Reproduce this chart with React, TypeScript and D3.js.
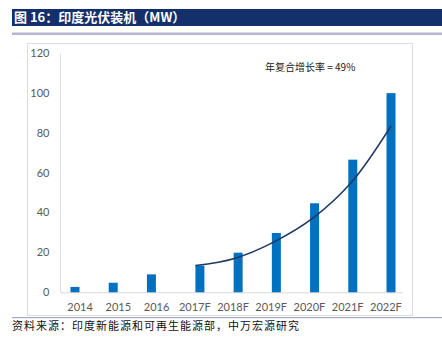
import React from "react";
import * as d3 from "d3";

const categories = ["2014", "2015", "2016", "2017F", "2018F", "2019F", "2020F", "2021F", "2022F"];
const actualValues: (number | null)[] = [2.7, 4.8, 9.0, null, null, null, null, null, null];
const forecastValues: (number | null)[] = [null, null, null, 13.4, 19.9, 29.8, 44.7, 66.6, 100];
const trendValues = [13.4, 17.0, 25.2, 37.2, 55.5, 83.5];
const yTicks = [0, 20, 40, 60, 80, 100, 120];
const titleText = "图 16：印度光伏装机（MW）";
const noteText = "年复合增长率 = 49%";
const sourceText = "资料来源：印度新能源和可再生能源部，中万宏源研究";

const W = 442;
const H = 339;

export default function App() {
  const x = d3.scaleBand<string>().domain(categories).range([61, 405]).padding(0);
  const sub = d3.scaleBand<string>().domain(["a", "f"]).range([-10, 10]).paddingInner(0.05).paddingOuter(0);
  const y = d3.scaleLinear().domain([0, 120]).range([292.3, 53.3]);
  const bw = 9;

  const center = (c: string) => (x(c) as number) + x.bandwidth() / 2;
  const barX = (c: string, s: string) => center(c) + (sub(s) as number) + (sub.bandwidth() - bw) / 2;

  const firstF = barX("2017F", "f");
  const lastF = barX("2022F", "f") + bw / 2;
  const tx = d3.scaleLinear().domain([0, trendValues.length - 1]).range([firstF, lastF]);
  const line = d3
    .line<number>()
    .x((_, i) => tx(i))
    .y((d) => y(d))
    .curve(d3.curveCatmullRom.alpha(0.5));

  const tickFont = "Lato, 'Open Sans', sans-serif";
  const cjk = "'Noto Sans CJK SC', sans-serif";

  return (
    <svg width={W} height={H} style={{ position: "absolute", left: 0, top: 0, background: "#fff" }}>
      {/* title bar */}
      <rect x={12} y={9} width={430} height={17} fill="#14306b" />
      <text x={14} y={22} fill="#fff" fontSize={13} fontWeight="bold" fontFamily={cjk}>
        {titleText}
      </text>
      <rect x={12} y={32.5} width={430} height={2.5} fill="#b6b8d2" />

      {/* chart box */}
      <rect x={27.5} y={43.5} width={385} height={272} fill="none" stroke="#dcdcdc" strokeWidth={1} />

      {/* axes */}
      <line x1={60.5} x2={60.5} y1={y(120)} y2={y(0)} stroke="#e0e0e0" strokeWidth={1} />
      <line x1={60} x2={403} y1={y(0) + 0.5} y2={y(0) + 0.5} stroke="#d9d9d9" strokeWidth={1} />

      {yTicks.map((t) => (
        <text key={t} x={49.5} y={y(t)} dy="0.35em" textAnchor="end" fontSize={11} fill="#595959" fontFamily={tickFont}>
          {t}
        </text>
      ))}

      {categories.map((c) => (
        <text key={c} x={center(c)} y={307} dy="0.35em" textAnchor="middle" fontSize={11} fill="#595959" fontFamily={tickFont}>
          {c}
        </text>
      ))}

      {categories.map((c, i) => {
        const a = actualValues[i];
        const f = forecastValues[i];
        return (
          <g key={c}>
            {a != null && (
              <rect x={barX(c, "a")} y={y(a)} width={bw} height={y(0) - y(a)} fill="#0070c0" />
            )}
            {f != null && (
              <rect x={barX(c, "f")} y={y(f)} width={bw} height={y(0) - y(f)} fill="#0070c0" />
            )}
          </g>
        );
      })}

      <path d={line(trendValues) || ""} fill="none" stroke="#1f3864" strokeWidth={1.5} />

      <text x={265} y={67} dy="0.35em" fontSize={10} fill="#222" fontFamily={cjk}>
        {noteText}
      </text>

      {/* bottom rule and source */}
      <rect x={12} y={317} width={430} height={1.2} fill="#a4a6cc" />
      <text x={12} y={326} dy="0.35em" fontSize={11} letterSpacing={1} fill="#111" fontFamily={cjk}>
        {sourceText}
      </text>
    </svg>
  );
}
